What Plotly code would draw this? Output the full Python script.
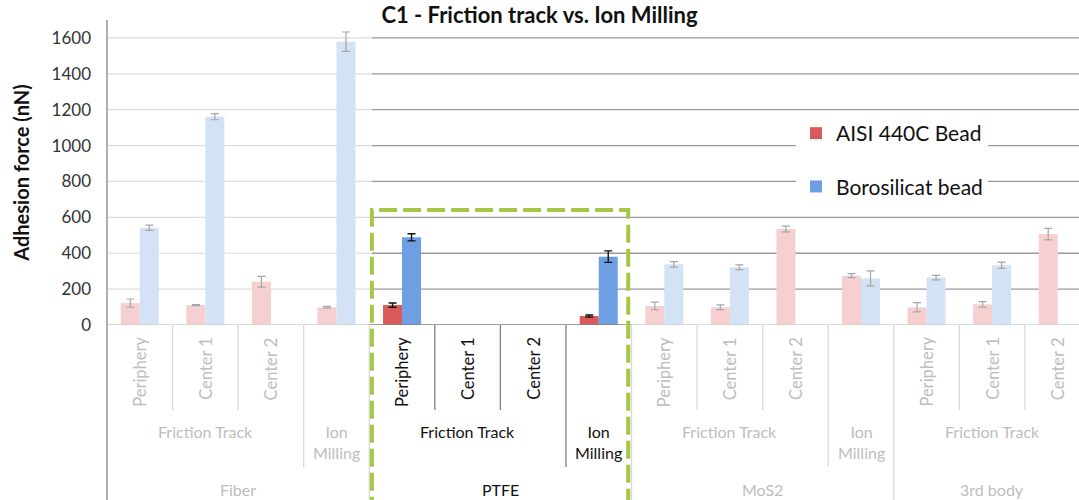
import plotly.graph_objects as go

# ---------------- data ----------------
materials = ["Fiber", "Fiber", "Fiber", "Fiber",
             "PTFE", "PTFE", "PTFE", "PTFE",
             "MoS2", "MoS2", "MoS2", "MoS2",
             "3rd body", "3rd body", "3rd body"]
groups = ["Friction Track", "Friction Track", "Friction Track", "Ion Milling",
          "Friction Track", "Friction Track", "Friction Track", "Ion Milling",
          "Friction Track", "Friction Track", "Friction Track", "Ion Milling",
          "Friction Track", "Friction Track", "Friction Track"]
subs = ["Periphery", "Center 1", "Center 2", "",
        "Periphery", "Center 1", "Center 2", "",
        "Periphery", "Center 1", "Center 2", "",
        "Periphery", "Center 1", "Center 2"]

aisi = [122, 111, 241, 99, 111, None, None, 50, 106, 99, 535, 275, 99, 115, 507]
aisi_err = [23, 3, 30, 5, 12, None, None, 6, 21, 13, 16, 11, 26, 15, 32]
boro = [542, 1161, None, 1579, 489, None, None, 381, 338, 322, None, 260, 264, 333, None]
boro_err = [15, 17, None, 54, 20, None, None, 32, 15, 13, None, 42, 13, 17, None]

y_ticks = [0, 200, 400, 600, 800, 1000, 1200, 1400, 1600]
highlight = "PTFE"

title = "C1 - Friction track vs. Ion Milling"
y_title = "Adhesion force (nN)"
series_names = ["AISI 440C Bead", "Borosilicat bead"]

# ---------------- style ----------------
FONT = "Lato"
RED_HI, BLUE_HI = "#d95a58", "#6e9fe3"
RED_FADED, BLUE_FADED = "#f6d0d0", "#d4e2f6"
ERR_FADED, ERR_HI = "#a6a6a6", "#111111"
TXT_FADED, TXT_HI = "#bdbdbd", "#111111"
SEP_FADED, SEP_HI = "#d9d9d9", "#808080"
GREEN = "#a6c646"

n = len(subs)
pos = list(range(n))
is_hi = [m == highlight for m in materials]


def pick(vals, keep):
    return [v if (h == keep) else None for v, h in zip(vals, is_hi)]


fig = go.Figure()
for name, vals, errs, cf, ch, grp in [
    (series_names[0], aisi, aisi_err, RED_FADED, RED_HI, "aisi"),
    (series_names[1], boro, boro_err, BLUE_FADED, BLUE_HI, "boro"),
]:
    fig.add_trace(go.Bar(
        x=pos, y=pick(vals, False), name=name, offsetgroup=grp, legendgroup=grp,
        showlegend=False, marker=dict(color=cf, line=dict(width=0)),
        error_y=dict(type="data", array=pick(errs, False), color=ERR_FADED,
                     thickness=1.2, width=4),
    ))
    fig.add_trace(go.Bar(
        x=pos, y=pick(vals, True), name=name, offsetgroup=grp, legendgroup=grp,
        showlegend=True, marker=dict(color=ch, line=dict(width=0)),
        error_y=dict(type="data", array=pick(errs, True), color=ERR_HI,
                     thickness=1.4, width=4),
    ))

H, MT, MB = 500, 20, 175
plot_h = H - MT - MB


def py(px):  # pixel row -> paper y
    return (H - MB - px) / plot_h


shapes = []
annotations = []

hi_idx = [i for i in pos if is_hi[i]]
split_x = hi_idx[0] - 0.46

# gridlines: light over the left part, darker from the highlight box on
for t in y_ticks[1:]:
    shapes.append(dict(type="line", xref="x", yref="y", x0=-0.5, x1=split_x, y0=t, y1=t,
                       line=dict(color="#dcdcdc", width=1.2), layer="below"))
    shapes.append(dict(type="line", xref="x", yref="y", x0=split_x, x1=n, y0=t, y1=t,
                       line=dict(color="#9a9a9a", width=1.3), layer="below"))

# baseline per category
for i in pos:
    shapes.append(dict(type="line", xref="x", yref="y", x0=i - 0.5, x1=i + 0.5, y0=0, y1=0,
                       line=dict(color=SEP_HI if is_hi[i] else "#cfcfcf", width=1.3)))

# category separators
for i in range(n - 1):
    if materials[i] != materials[i + 1]:
        y_end = -0.7
    elif groups[i] != groups[i + 1]:
        y_end = py(467)
    else:
        y_end = py(410)
    col = SEP_HI if (is_hi[i] and is_hi[i + 1]) else SEP_FADED
    shapes.append(dict(type="line", xref="x", yref="paper", x0=i + 0.5, x1=i + 0.5,
                       y0=0, y1=y_end, line=dict(color=col, width=1.3)))

# y axis line extended down through the label table
shapes.append(dict(type="line", xref="paper", yref="paper", x0=0, x1=0, y0=1, y1=-0.7,
                   line=dict(color="#868686", width=1.3)))

# level 1 labels (rotated)
for i in pos:
    if subs[i]:
        annotations.append(dict(x=i, xref="x", y=py(335), yref="paper", text=subs[i],
                                textangle=-90, yanchor="top", xanchor="center",
                                showarrow=False,
                                font=dict(family=FONT, size=16.5,
                                          color=TXT_HI if is_hi[i] else TXT_FADED)))


def runs(keys):
    out = []
    s = 0
    for i in range(1, n + 1):
        if i == n or keys[i] != keys[s]:
            out.append((s, i - 1))
            s = i
    return out


# level 2 labels
for s, e in runs(list(zip(materials, groups))):
    txt = groups[s] if e > s else groups[s].replace(" ", "<br>")
    annotations.append(dict(x=(s + e) / 2, xref="x", y=py(420), yref="paper", text=txt,
                            yanchor="top", xanchor="center", showarrow=False,
                            font=dict(family=FONT, size=16,
                                      color=TXT_HI if is_hi[s] else TXT_FADED)))

# level 3 labels (materials)
for s, e in runs(materials):
    annotations.append(dict(x=(s + e) / 2, xref="x", y=py(489), yref="paper",
                            text=materials[s], yanchor="middle", xanchor="center",
                            showarrow=False,
                            font=dict(family=FONT, size=16,
                                      color=TXT_HI if is_hi[s] else TXT_FADED)))

# green dashed highlight frame
shapes.append(dict(type="rect", xref="x", yref="paper",
                   x0=hi_idx[0] - 0.46, x1=hi_idx[-1] + 0.45, y0=-0.7, y1=py(210),
                   line=dict(color=GREEN, width=4, dash="18px,6px"),
                   fillcolor="rgba(0,0,0,0)"))

fig.update_layout(
    width=1079, height=H,
    margin=dict(l=107, r=0, t=MT, b=MB, autoexpand=False),
    paper_bgcolor="white", plot_bgcolor="white",
    barmode="group", bargap=0.42, bargroupgap=0,
    title=dict(text=title, x=0.5, xanchor="center", y=1 - 15 / H, yanchor="middle",
               font=dict(family=FONT, size=22, color="#111111", weight="bold")),
    xaxis=dict(range=[-0.5, 14.325], showticklabels=False, showgrid=False,
               zeroline=False, showline=False, ticks="", automargin=False),
    yaxis=dict(range=[0, 1700], tickvals=y_ticks, showgrid=False, zeroline=False,
               showline=False, ticks="", ticklabelstandoff=15, automargin=False,
               tickfont=dict(family=FONT, size=17, color="#333333"),
               title=dict(text=y_title, standoff=16,
                          font=dict(family=FONT, size=20, color="#111111", weight="bold"))),
    legend=dict(x=(796 - 107) / 972, xanchor="left", y=py(113), yanchor="top",
                bgcolor="white", traceorder="grouped", tracegroupgap=23,
                font=dict(family=FONT, size=21, color="#111111"), itemwidth=30),
    shapes=shapes,
    annotations=annotations,
    showlegend=True,
)

fig.write_html("out.html",
               config={"displayModeBar": False},
               post_script="document.body.style.margin='0px';"
                           "document.body.style.padding='0px';")
